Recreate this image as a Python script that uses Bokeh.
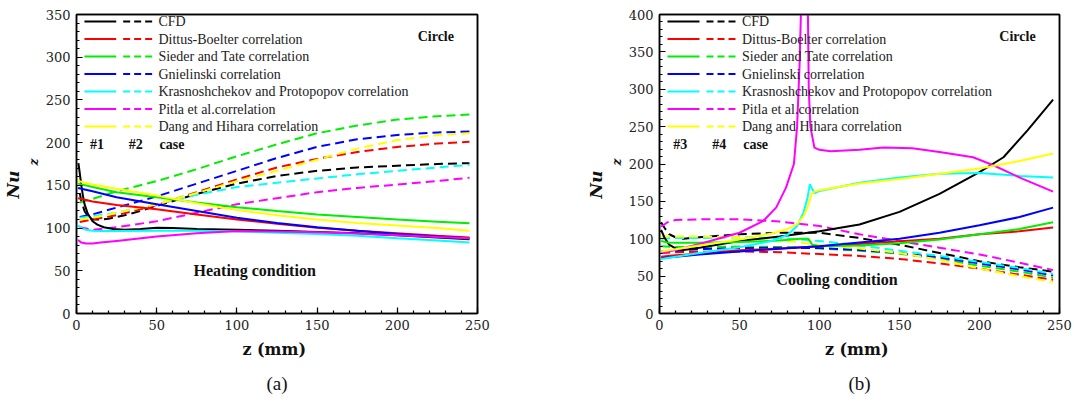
import math
from bokeh.plotting import figure
from bokeh.models import Range1d, FixedTicker, Label, Title, LinearAxis
from bokeh.layouts import row
from bokeh.embed import file_html
from bokeh.resources import INLINE

# ---------------- data ----------------
series_names = ["CFD", "Dittus-Boelter correlation", "Sieder and Tate correlation",
                "Gnielinski correlation", "Krasnoshchekov and Protopopov correlation",
                "Pitla et al.correlation", "Dang and Hihara correlation"]
series_colors = ["#000000", "#ff0000", "#00ee00", "#0000ff", "#00ffff", "#ff00ff", "#ffff00"]

x_ticks = [0, 50, 100, 150, 200, 250]
x_minor = list(range(0, 251, 10))
a_y_ticks = [0, 50, 100, 150, 200, 250, 300, 350]
a_y_minor = list(range(0, 351, 10))
b_y_ticks = [0, 50, 100, 150, 200, 250, 300, 350, 400]
b_y_minor = list(range(0, 401, 10))

# (a) heating: case #1 solid, case #2 dashed
a_z = [1, 10, 25, 50, 75, 100, 125, 150, 175, 200, 225, 245]
a_zd = [2, 10, 25, 50, 75, 100, 125, 150, 175, 200, 225, 245]

a_cfd1_z = [1.2, 2, 3, 4, 5, 7, 10, 13, 17, 23, 30, 40, 50, 60, 75, 100, 125, 150, 175, 200, 225, 245]
a_cfd1 = [176, 165, 150, 138, 128, 117, 108, 104, 101, 99, 98, 99, 100.5, 100, 99, 98, 97, 95.5, 94, 91.5, 89, 87]
a_cfd2_z = [2, 3, 5, 7, 10, 15, 20, 30, 40, 50, 75, 100, 125, 150, 175, 200, 225, 245]
a_cfd2 = [141, 132, 120, 114, 110, 110, 111, 115, 120, 126, 140, 152, 161, 167, 171, 173, 175, 176]

a_db1 = [135, 131, 127, 122, 116, 110, 105, 100.5, 97, 94, 91, 89]
a_st1 = [152, 148, 142, 136, 130, 124.5, 120, 116, 113, 110, 107.5, 105.5]
a_gn1 = [147, 143, 136, 128, 120, 112, 106, 101, 97, 93, 90, 88]
a_yl1 = [155, 151, 146, 138, 129, 121, 115, 110, 106, 103, 100, 97]
a_kp1_z = [1, 3, 6, 10, 15, 25, 50, 75, 100, 125, 150, 175, 200, 225, 245]
a_kp1 = [103, 100, 98, 97, 96.5, 96.5, 97, 97, 96, 94.5, 93, 91, 88, 85.5, 83]
a_pi1_z = [1, 3, 6, 10, 15, 25, 50, 75, 100, 125, 150, 175, 200, 225, 245]
a_pi1 = [86, 83, 82, 82, 83, 85, 90, 94, 96.5, 96, 95, 93.5, 91.5, 89.5, 88]

a_db2 = [107, 110, 115, 127, 142, 157, 171, 181, 189, 195, 199, 201]
a_st2 = [130, 134, 143, 155, 169, 184, 198, 211, 220, 227, 231, 233]
a_gn2 = [113, 116, 124, 137, 152, 167, 182, 195, 204, 209, 212, 213]
a_kp2 = [112, 114, 118, 128, 139, 148, 153, 158, 163, 167, 171, 174]
a_pi2 = [101, 98, 101, 108, 118, 128, 135, 142, 147, 151, 155, 159]
a_dh2 = [110, 112, 118, 128, 141, 155, 167, 180, 193, 203, 209, 211]

# (b) cooling: case #3 solid, case #4 dashed
b_z = [1, 10, 25, 50, 75, 100, 125, 150, 175, 200, 225, 246]

b_cfd3_z = [1, 3, 6, 10, 15, 25, 50, 75, 100, 125, 150, 175, 200, 215, 230, 246]
b_cfd3 = [112, 102, 92, 87, 85, 88, 97, 103, 110, 119, 136, 160, 189, 209, 245, 286]
b_cfd4_z = [1, 3, 6, 10, 15, 25, 50, 75, 100, 125, 150, 175, 200, 225, 246]
b_cfd4 = [122, 115, 106, 102, 100, 102, 106, 108, 108, 101, 92, 81, 70, 62, 56]

b_db3 = [76, 78, 80, 84.5, 87, 90, 93, 96.5, 100, 106, 110, 115]
b_db4 = [81, 82, 82.5, 83, 82, 79.5, 77, 73, 67, 60, 52, 45]
b_st3_z = [1, 5, 10, 25, 50, 75, 88, 93, 95.5, 100, 125, 150, 175, 200, 225, 246]
b_st3 = [97, 95, 94.5, 94.5, 95.5, 97.5, 100, 100, 92, 90, 91, 94, 99, 106, 113, 122]
b_st4 = [90, 89, 89, 89.5, 89, 87, 84, 80, 73, 64, 56, 48]
b_gn3 = [74, 76, 79, 83, 86.5, 90, 95, 100, 108, 118, 129, 141.6]
b_gn4 = [83, 84, 86, 87.5, 88, 87.5, 85, 81, 75, 67, 59, 51]
b_kp3_z = [1, 10, 25, 50, 70, 80, 86, 90, 92.5, 94, 95.5, 97, 100, 125, 150, 175, 200, 225, 246]
b_kp3 = [73, 76, 81, 88.5, 97, 105, 117, 135, 155, 173, 166, 161, 164, 175, 182, 187, 188, 184, 182]
b_kp4 = [100, 101, 101, 102, 101, 97, 91, 84, 77, 69, 61, 53]
b_pi3_z = [1, 10, 25, 50, 65, 73, 79, 84, 86, 87.5, 89, 91, 92.5, 93.3, 94.3, 96.8, 100, 107,
           125, 140, 158, 175, 196, 209, 227, 246]
b_pi3 = [81, 85, 93, 108, 124, 142, 168, 200, 250, 330, 450, 1500, 450, 300, 250, 222, 219, 217,
         219, 222, 221, 216, 209, 198, 180, 163]
b_pi4_z = [1, 5, 10, 25, 50, 75, 100, 125, 150, 175, 200, 225, 246]
b_pi4 = [116, 122, 125, 126, 126, 123, 117, 106, 97, 88, 79, 68, 58]
b_dh3_z = [1, 10, 25, 50, 70, 80, 86, 90, 93, 95, 97, 100, 125, 150, 175, 200, 225, 246]
b_dh3 = [83, 86, 91, 99, 107, 113, 120, 130, 145, 160, 163, 165, 174, 180, 187, 194, 204, 214]
b_dh4 = [103, 103, 103, 102, 98, 92, 87, 81, 72, 60, 50, 42]

FONT = "Liberation Serif"      # used by in-plot labels
AXFONT = "DejaVu Serif"        # used by axes and side titles
DASH = "9 5"
LW = 2
TXT = "#111111"


def style_axis(ax):
    ax.major_tick_in = 6
    ax.major_tick_out = 0
    ax.minor_tick_in = 3
    ax.minor_tick_out = 0
    ax.axis_line_width = 1.5
    ax.axis_line_color = "black"
    ax.major_tick_line_color = "black"
    ax.minor_tick_line_color = "black"
    ax.major_tick_line_width = 1.2
    ax.minor_tick_line_width = 1.2
    ax.major_label_text_font = AXFONT
    ax.major_label_text_font_size = "13px"
    ax.major_label_text_font_style = "normal"
    ax.major_label_text_color = "#222222"
    ax.major_label_standoff = 6


def frame_axis():
    return LinearAxis(ticker=FixedTicker(ticks=[]), major_tick_in=0, major_tick_out=0,
                      minor_tick_in=0, minor_tick_out=0, major_label_text_font_size="0px",
                      major_label_standoff=0, axis_line_width=1.5, axis_line_color="black")


def title(text, loc_align, offset, standoff, size, style, font=AXFONT):
    return Title(text=text, align=loc_align, offset=offset, standoff=standoff,
                 text_font=font, text_font_size=size, text_font_style=style, text_color=TXT)


def make_panel(width, bl, br, ymax, yticks, yminor, solids, dashes, cases,
               cond_text, cond_px, sub_text, sub_offset):
    H = 403
    top, bottom = 14, 90
    p = figure(width=width, height=H, output_backend="svg", toolbar_location=None,
               x_range=Range1d(0, 250), y_range=Range1d(0, ymax),
               min_border_left=bl, min_border_right=br,
               min_border_top=top, min_border_bottom=bottom)
    p.background_fill_color = "white"
    p.border_fill_color = "white"
    p.grid.visible = False
    p.outline_line_color = "black"
    p.outline_line_width = 1.5
    fw = width - bl - br
    fh = H - top - bottom

    def dx(px):
        return (px - bl) / fw * 250.0

    def dy(py):
        return (top + fh - py) / fh * ymax

    xax = p.xaxis[0]
    yax = p.yaxis[0]
    style_axis(xax)
    style_axis(yax)
    xax.ticker = FixedTicker(ticks=x_ticks, minor_ticks=x_minor)
    yax.ticker = FixedTicker(ticks=yticks, minor_ticks=yminor)

    p.add_layout(frame_axis(), "above")
    p.add_layout(frame_axis(), "right")
    p.add_layout(title("z", "left", 148, 4, "12px", "bold italic"), "left")
    p.add_layout(title("Nu", "left", 115, 0, "17px", "bold italic"), "left")
    p.add_layout(title("z  (mm)", "center", 0, 11, "16px", "bold"), "below")
    p.add_layout(title(sub_text, "center", sub_offset, 12, "19px", "normal", FONT), "below")

    for (zz, vv), c in zip(dashes, series_colors):
        p.line(zz, vv, line_color=c, line_width=LW, line_dash=DASH)
    for (zz, vv), c in zip(solids, series_colors):
        p.line(zz, vv, line_color=c, line_width=LW)

    # legend (solid sample, dashed sample, label)
    for i, (name, c) in enumerate(zip(series_names, series_colors)):
        ry = 21 + i * 17.5
        p.line([dx(bl + 8), dx(bl + 40)], [dy(ry), dy(ry)], line_color=c, line_width=LW)
        p.line([dx(bl + 47), dx(bl + 79)], [dy(ry), dy(ry)], line_color=c, line_width=LW,
               line_dash="7 4")
        p.add_layout(Label(x=dx(bl + 82.5), y=dy(ry), text=name, text_font=FONT,
                           text_font_size="14px", text_baseline="middle", text_align="left",
                           text_color="#222222"))
    for txt, xo in zip(cases, [13.7, 52.7, 83.7]):
        p.add_layout(Label(x=dx(bl + xo), y=dy(144.3), text=txt, text_font=FONT,
                           text_font_size="14px", text_font_style="bold",
                           text_baseline="middle", text_align="left", text_color=TXT))
    p.add_layout(Label(x=dx(bl + fw - 42), y=dy(36), text="Circle", text_font=FONT,
                       text_font_size="14px", text_font_style="bold",
                       text_baseline="middle", text_align="center", text_color=TXT))
    p.add_layout(Label(x=dx(cond_px[0]), y=dy(cond_px[1]), text=cond_text, text_font=FONT,
                       text_font_size="16px", text_font_style="bold",
                       text_baseline="middle", text_align="center", text_color=TXT))
    return p


a_solids = [(a_cfd1_z, a_cfd1), (a_z, a_db1), (a_z, a_st1), (a_z, a_gn1),
            (a_kp1_z, a_kp1), (a_pi1_z, a_pi1), (a_z, a_yl1)]
a_dashes = [(a_cfd2_z, a_cfd2), (a_zd, a_db2), (a_zd, a_st2), (a_zd, a_gn2),
            (a_zd, a_kp2), (a_zd, a_pi2), (a_zd, a_dh2)]
b_solids = [(b_cfd3_z, b_cfd3), (b_z, b_db3), (b_st3_z, b_st3), (b_z, b_gn3),
            (b_kp3_z, b_kp3), (b_pi3_z, b_pi3), (b_dh3_z, b_dh3)]
b_dashes = [(b_cfd4_z, b_cfd4), (b_z, b_db4), (b_z, b_st4), (b_z, b_gn4),
            (b_z, b_kp4), (b_pi4_z, b_pi4), (b_z, b_dh4)]

p1 = make_panel(537, 73, 60, 350, a_y_ticks, a_y_minor, a_solids, a_dashes,
                ["#1", "#2", "case"], "Heating condition", (252.5, 270), "(a)", -8)
p2 = make_panel(537, 122, 15, 400, b_y_ticks, b_y_minor, b_solids, b_dashes,
                ["#3", "#4", "case"], "Cooling condition", (836.5 - 537, 279), "(b)", 3)

layout = row(p1, p2)
open("out.html", "w").write(file_html(layout, INLINE))
